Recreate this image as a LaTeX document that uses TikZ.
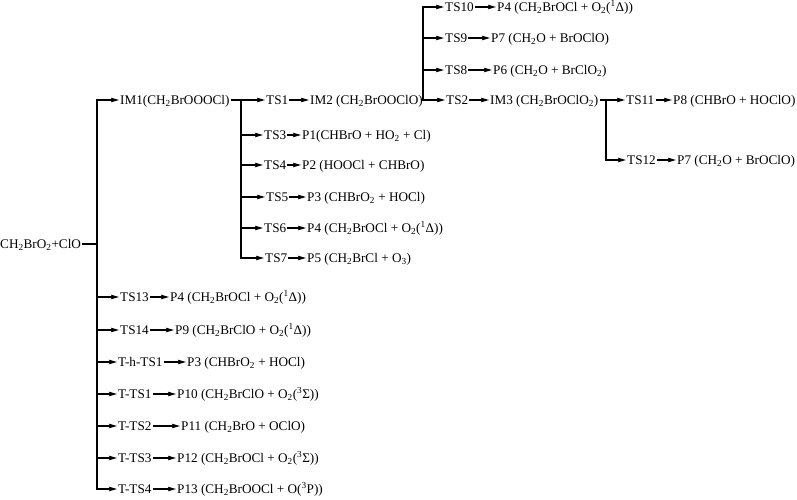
\documentclass[tikz,border=0pt]{standalone}
\usepackage{fontspec}
\setmainfont{Liberation Serif}
\usetikzlibrary{arrows.meta}
\newcommand\mysub[1]{\textsubscript{#1}}
\newcommand\mysup[1]{\textsuperscript{#1}}
\begin{document}
\begin{tikzpicture}[x=1pt,y=-1pt,
  lbl/.style={anchor=west, inner xsep=1pt, inner ysep=0pt, text height=10.5pt, text depth=2pt,
              font=\fontsize{13.2}{15}\selectfont},
  ln/.style={line width=1.1pt},
  arr/.style={line width=1.1pt, -{Stealth[length=8pt,width=4.5pt,inset=1pt]}},
  trunk/.style={line width=1.1pt, line cap=rect}]
\useasboundingbox (0,0) rectangle (797,500);
\coordinate (x1) at (97,0);
\coordinate (x2) at (241,0);
\coordinate (x3) at (423,0);
\coordinate (x4) at (606,0);
% root
\node[lbl] (R) at (-1,244) {CH\mysub{2}BrO\mysub{2}+ClO};
% level 1
\node[lbl] (IM1) at (119,100) {IM1(CH\mysub{2}BrOOOCl)};
\node[lbl] (TS13) at (119,297) {TS13};
\node[lbl] (P4c) at (169,297) {P4 (CH\mysub{2}BrOCl + O\mysub{2}(\mysup{1}Δ))};
\node[lbl] (TS14) at (119,330) {TS14};
\node[lbl] (P9) at (174,330) {P9 (CH\mysub{2}BrClO + O\mysub{2}(\mysup{1}Δ))};
\node[lbl] (Th) at (117,362) {T-h-TS1};
\node[lbl] (P3b) at (186,362) {P3 (CHBrO\mysub{2} + HOCl)};
\node[lbl] (TT1) at (117,394) {T-TS1};
\node[lbl] (P10) at (176,394) {P10 (CH\mysub{2}BrClO + O\mysub{2}(\mysup{3}Σ))};
\node[lbl] (TT2) at (117,426) {T-TS2};
\node[lbl] (P11) at (180,426) {P11 (CH\mysub{2}BrO + OClO)};
\node[lbl] (TT3) at (117,458) {T-TS3};
\node[lbl] (P12) at (176,458) {P12 (CH\mysub{2}BrOCl + O\mysub{2}(\mysup{3}Σ))};
\node[lbl] (TT4) at (117,489) {T-TS4};
\node[lbl] (P13) at (176,489) {P13 (CH\mysub{2}BrOOCl + O(\mysup{3}P))};
% level 2
\node[lbl] (TS1) at (265,100) {TS1};
\node[lbl] (IM2) at (309,100) {IM2 (CH\mysub{2}BrOOClO)};
\node[lbl] (TS3) at (263,135) {TS3};
\node[lbl] (P1) at (301,135) {P1(CHBrO + HO\mysub{2} + Cl)};
\node[lbl] (TS4) at (263,165) {TS4};
\node[lbl] (P2) at (301,165) {P2 (HOOCl + CHBrO)};
\node[lbl] (TS5) at (265,197) {TS5};
\node[lbl] (P3) at (306,197) {P3 (CHBrO\mysub{2} + HOCl)};
\node[lbl] (TS6) at (263,228) {TS6};
\node[lbl] (P4) at (306,228) {P4 (CH\mysub{2}BrOCl + O\mysub{2}(\mysup{1}Δ))};
\node[lbl] (TS7) at (264,258) {TS7};
\node[lbl] (P5) at (306,258) {P5 (CH\mysub{2}BrCl + O\mysub{3})};
% level 3
\node[lbl] (TS10) at (444,7) {TS10};
\node[lbl] (P4a) at (496,7) {P4 (CH\mysub{2}BrOCl + O\mysub{2}(\mysup{1}Δ))};
\node[lbl] (TS9) at (444,38) {TS9};
\node[lbl] (P7a) at (490,38) {P7 (CH\mysub{2}O + BrOClO)};
\node[lbl] (TS8) at (444,70) {TS8};
\node[lbl] (P6) at (492,70) {P6 (CH\mysub{2}O + BrClO\mysub{2})};
\node[lbl] (TS2) at (445,100) {TS2};
\node[lbl] (IM3) at (489,100) {IM3 (CH\mysub{2}BrOClO\mysub{2})};
% level 4
\node[lbl] (TS11) at (625,100) {TS11};
\node[lbl] (P8) at (672,100) {P8 (CHBrO + HOClO)};
\node[lbl] (TS12) at (626,160) {TS12};
\node[lbl] (P7b) at (676,160) {P7 (CH\mysub{2}O + BrOClO)};
% trunks
\draw[trunk] (IM1.west -| x1) -- (TT4.west -| x1);
\draw[trunk] (TS1.west -| x2) -- (TS7.west -| x2);
\draw[trunk] (TS10.west -| x3) -- (TS2.west -| x3);
\draw[trunk] (TS11.west -| x4) -- (TS12.west -| x4);
% feeders
\draw[ln] (R.east) -- (R.east -| x1);
\draw[ln] (IM1.east) -- (IM1.east -| x2);
\draw[ln] (IM2.east) -- (IM2.east -| x3);
\draw[ln] (IM3.east) -- (IM3.east -| x4);
% branches
\foreach \n in {IM1,TS13,TS14,Th,TT1,TT2,TT3,TT4}
  \draw[arr] (\n.west -| x1) -- (\n.west);
\foreach \n in {TS1,TS3,TS4,TS5,TS6,TS7}
  \draw[arr] (\n.west -| x2) -- (\n.west);
\foreach \n in {TS10,TS9,TS8,TS2}
  \draw[arr] (\n.west -| x3) -- (\n.west);
\foreach \n in {TS11,TS12}
  \draw[arr] (\n.west -| x4) -- (\n.west);
% chains
\foreach \a/\b in {TS13/P4c,TS14/P9,Th/P3b,TT1/P10,TT2/P11,TT3/P12,TT4/P13,
                   TS1/IM2,TS3/P1,TS4/P2,TS5/P3,TS6/P4,TS7/P5,
                   TS10/P4a,TS9/P7a,TS8/P6,TS2/IM3,TS11/P8,TS12/P7b}
  \draw[arr] (\a.east) -- (\b.west);
\end{tikzpicture}
\end{document}
